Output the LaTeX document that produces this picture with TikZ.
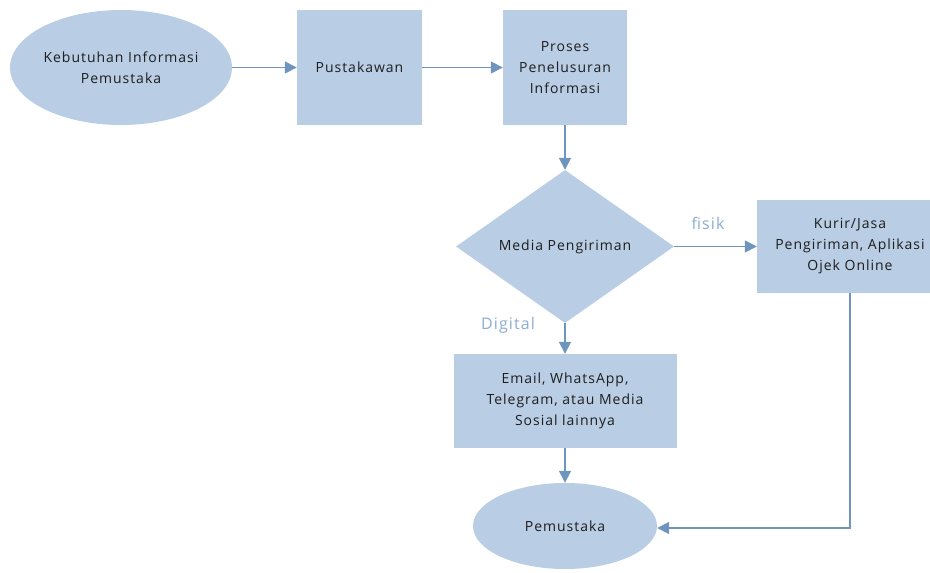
\documentclass[tikz,border=0pt]{standalone}
\usepackage{fontspec}
\setmainfont{Open Sans}[LetterSpace=7]
\usetikzlibrary{shapes.geometric,arrows.meta}
\definecolor{boxfill}{HTML}{B9CDE5}
\definecolor{linecol}{HTML}{6F94BE}
\definecolor{labcol}{HTML}{8AACD0}
\definecolor{txtcol}{HTML}{1E1E1E}
\tikzset{
  every node/.style={font=\fontsize{14}{21}\selectfont, text=txtcol, align=center, inner sep=0pt},
  procbox/.style={rectangle, fill=boxfill, draw=none},
  termell/.style={ellipse, fill=boxfill, draw=none},
  decis/.style={diamond, fill=boxfill, draw=none},
  conn/.style={draw=linecol, line width=1.6pt, -{Triangle[length=12pt,width=12pt]}},
  lab/.style={text=labcol, font=\fontsize{16}{18}\selectfont}
}
\begin{document}
\begin{tikzpicture}[x=1pt,y=-1pt]
\useasboundingbox (0,0) rectangle (930,573);
\clip (0,0) rectangle (930,573);
\node[termell, minimum width=222pt, minimum height=115pt] (kebutuhan) at (121,67.5) {Kebutuhan Informasi\\Pemustaka};
\node[procbox, minimum width=125pt, minimum height=115pt] (pustakawan) at (359.5,67.5) {Pustakawan};
\node[procbox, minimum width=124pt, minimum height=115pt] (proses) at (565,67.5) {Proses\\Penelusuran\\Informasi};
\node[decis, minimum width=218pt, minimum height=153pt, aspect=1.42] (media) at (565,246.5) {Media Pengiriman};
\node[procbox, minimum width=186pt, minimum height=93pt] (kurir) at (850,246.5) {Kurir/Jasa\\Pengiriman, Aplikasi\\Ojek Online};
\node[procbox, minimum width=223pt, minimum height=94pt] (email) at (565,401) {Email, WhatsApp,\\Telegram, atau Media\\Sosial lainnya};
\node[termell, minimum width=184pt, minimum height=86pt] (pemustaka) at (565,526) {Pemustaka};
\coordinate (corner) at (850,528);
\draw[conn] (kebutuhan.east) -- (pustakawan.west);
\draw[conn] (pustakawan.east) -- (proses.west);
\draw[conn] (proses.south) -- (media.north);
\draw[conn] (media.east) -- (kurir.west);
\draw[conn] (media.south) -- (email.north);
\draw[conn] (email.south) -- (pemustaka.north);
\draw[conn] (kurir.south) -- (corner) -- (pemustaka.east |- corner);
\node[lab] (fisik) at (708,223) {fisik};
\node[lab] (digital) at (508,325) {Digital};
\end{tikzpicture}
\end{document}
